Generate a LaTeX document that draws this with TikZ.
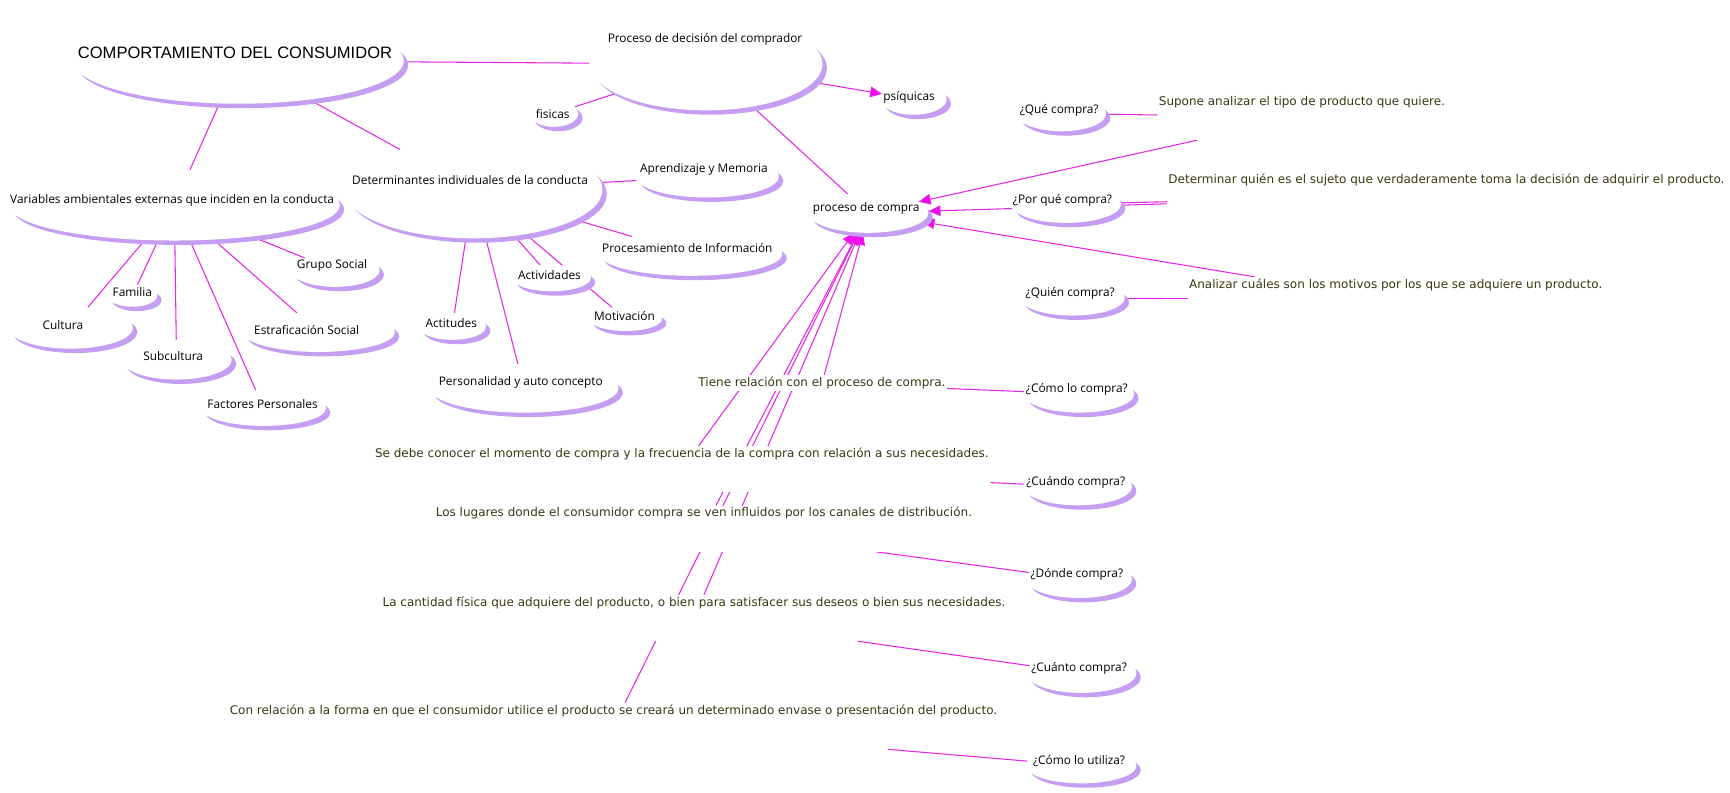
\documentclass[tikz,border=0pt]{standalone}
\usepackage{fontspec}
\setmainfont{Open Sans}
\newfontfamily\descfont{DejaVu Sans}
\newfontfamily\titlefont{Liberation Sans}
\usetikzlibrary{arrows.meta,shapes.geometric,shadows}

\definecolor{linkmag}{RGB}{228,40,228}
\definecolor{tipmag}{RGB}{242,0,242}
\definecolor{bubshadow}{RGB}{196,158,240}
\definecolor{desctext}{RGB}{58,56,18}

\pgfdeclarelayer{bg}
\pgfsetlayers{bg,main}

\tikzset{
  bubble/.style={ellipse, fill=white, inner sep=0pt,
    drop shadow={shadow xshift=3.3pt, shadow yshift=-3.3pt, fill=bubshadow, opacity=1}},
  ctext/.style={font=\fontsize{8.9}{10}\selectfont, inner sep=0pt},
  desc/.style={font=\descfont\fontsize{9}{10}\selectfont, text=desctext, fill=white,
    inner sep=1pt, text height=7.5pt, text depth=25pt, anchor=base},
  link/.style={draw=linkmag, line width=0.8pt},
  arrowlink/.style={link, -{Triangle[length=9pt, width=8pt, fill=tipmag]}}
}

\begin{document}
\begin{tikzpicture}[x=0.8275pt, y=-0.8275pt]
  \useasboundingbox (0,0) rectangle (1568,718);

  % main concept
  \node[bubble, minimum width=300*0.8275pt, minimum height=78*0.8275pt] (comp) at (216,55) {};
  \node[inner sep=0pt, font=\titlefont\fontsize{12.4}{14}\selectfont] (comp-t) at (213,48) {COMPORTAMIENTO DEL CONSUMIDOR};

  % bubbles: name / centre / size / text position / text
  \foreach \nm/\bx/\by/\bw/\bh/\tx/\ty/\txt in {
      proc/640/58/211/84/639/36/{Proceso de decisión del comprador},
      fis/502/103/44/24/501/103/{fisicas},
      psi/828/90/60/28/824/88/{psíquicas},
      det/429/172/234/88/426/163/{Determinantes individuales de la conducta},
      var/158/186/300/64/156/182/{Variables ambientales externas que inciden en la conducta},
      apr/641/160/130/38/638/154/{Aprendizaje y Memoria},
      procinf/626/230/166/40/623/225/{Procesamiento de Información},
      act/500/252/71/24/498/249/{Actividades},
      mot/567/289/66/22/566/286/{Motivación},
      acti/410/296/61/24/409/293/{Actitudes},
      pers/475/352/171/44/472/347/{Personalidad y auto concepto},
      grupo/304/245/80/30/301/241/{Grupo Social},
      fam/120/268/45/20/120/265/{Familia},
      cult/64/297/113/38/57/295/{Cultura},
      subc/160/326/100/36/157/323/{Subcultura},
      estr/289/301/138/36/278/299/{Estrafi­cación Social},
      fact/239/370/113/32/238/366/{Factores Personales},
      pc/787/193/109/36/785/189/{proceso de compra},
      que/962/103/81/32/960/100/{¿Qué compra?},
      por/966/185/100/34/963/182/{¿Por qué compra?},
      quien/972/270/95/32/970/266/{¿Quién compra?},
      como/978/357/100/34/976/353/{¿Cómo lo compra?},
      cuando/977/441/98/34/975/437/{¿Cuándo compra?},
      donde/978/525/96/34/976/521/{¿Dónde compra?},
      cuanto/980/610/100/36/978/606/{¿Cuánto compra?},
      utiliza/980/694/100/32/978/690/{¿Cómo lo utiliza?}}
  {
    \node[bubble, minimum width=\bw*0.8275pt, minimum height=\bh*0.8275pt] (\nm) at (\bx,\by) {};
    \node[ctext] (\nm-t) at (\tx,\ty) {\txt};
  }

  % linking texts
  \node[desc] (sup) at (1180,95.5) {Supone analizar el tipo de producto que quiere.};
  \node[desc] (det2) at (1311,166.5) {Determinar quién es el sujeto que verdaderamente toma la decisión de adquirir el producto.};
  \node[desc] (anal) at (1265,261.5) {Analizar cuáles son los motivos por los que se adquiere un producto.};
  \node[desc, text depth=2.5pt] (tiene) at (745,350.5) {Tiene relación con el proceso de compra.};
  \node[desc] (sedebe) at (618,414.5) {Se debe conocer el momento de compra y la frecuencia de la compra con relación a sus necesidades.};
  \node[desc] (lugares) at (638,468.5) {Los lugares donde el consumidor compra se ven influidos por los canales de distribución.};
  \node[desc] (cantidad) at (629,549.5) {La cantidad física que adquiere del producto, o bien para satisfacer sus deseos o bien sus necesidades.};
  \node[desc] (conrel) at (556,647.5) {Con relación a la forma en que el consumidor utilice el producto se creará un determinado envase o presentación del producto.};

  % connectors
  \begin{pgfonlayer}{bg}
    \draw[link] (comp) -- (proc);
    \draw[link] (comp) -- (var);
    \draw[link] (comp) -- (det);
    \draw[link] (proc) -- (fis);
    \draw[arrowlink] (proc) -- (psi);
    \draw[link] (proc) -- (pc);
    \foreach \c in {apr,procinf,act,mot,acti,pers}
      \draw[link] (det) -- (\c);
    \foreach \c in {cult,fam,subc,fact,estr,grupo}
      \draw[link] (var) -- (\c);
    \foreach \q/\d in {que/sup, por/det2, quien/anal, como/tiene, cuando/sedebe,
        donde/lugares, cuanto/cantidad, utiliza/conrel} {
      \draw[link] (\q) -- (\d);
      \draw[arrowlink] (\d) -- (pc);
    }
  \end{pgfonlayer}
\end{tikzpicture}
\end{document}
